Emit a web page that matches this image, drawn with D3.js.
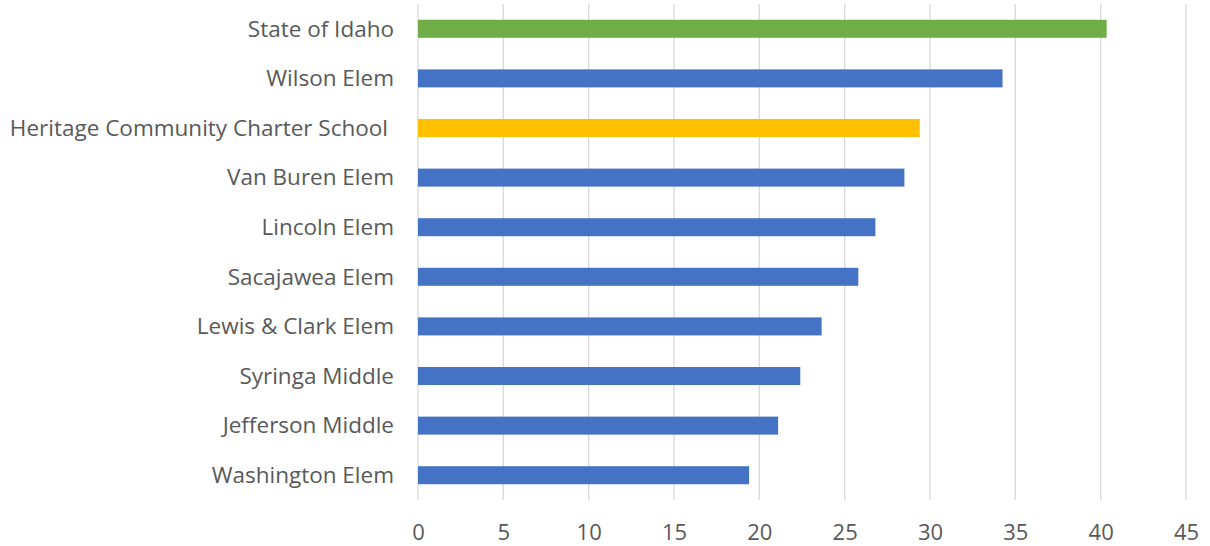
<!DOCTYPE html>
<html><head><meta charset="utf-8">
<script src="https://cdn.jsdelivr.net/npm/d3@7"></script>
<style>body{margin:0;background:#fff;} svg{display:block;}</style>
</head><body><svg id="c" width="1210" height="546"></svg>
<script>
const categories = ["State of Idaho","Wilson Elem","Heritage Community Charter School","Van Buren Elem","Lincoln Elem","Sacajawea Elem","Lewis & Clark Elem","Syringa Middle","Jefferson Middle","Washington Elem"];
const values = [40.35,34.25,29.4,28.5,26.8,25.8,23.65,22.4,21.1,19.4];
const barColors = ["#70ad47","#4472c4","#ffc000","#4472c4","#4472c4","#4472c4","#4472c4","#4472c4","#4472c4","#4472c4"];
const tickValues = [0,5,10,15,20,25,30,35,40,45];

const svg = d3.select("#c");
const pLeft = 418, pRight = 1186, pTop = 4, pBottom = 500;
const x = d3.scaleLinear().domain([0,45]).range([pLeft,pRight]);
const y = d3.scaleBand().domain(categories).range([pTop,pBottom]).paddingInner(0.637).paddingOuter(0.318);

svg.append("g").selectAll("line").data(tickValues).join("line")
  .attr("x1",d=>x(d)).attr("x2",d=>x(d)).attr("y1",pTop).attr("y2",pBottom)
  .attr("stroke","#d9d9d9").attr("stroke-width",1.3);

svg.append("g").selectAll("rect").data(categories).join("rect")
  .attr("x",x(0)).attr("y",d=>y(d)).attr("height",y.bandwidth())
  .attr("width",(d,i)=>x(values[i])-x(0)).attr("fill",(d,i)=>barColors[i]);

const font = "'Open Sans', sans-serif";
svg.append("g").selectAll("text").data(categories).join("text")
  .attr("x",d=> d.startsWith("Heritage") ? 388 : 394)
  .attr("y",d=>y(d)+y.bandwidth()/2).attr("dy","0.35em")
  .attr("text-anchor","end").attr("font-family",font).attr("font-size",22.5)
  .attr("fill","#595959").text(d=>d);

const xAxis = d3.axisBottom(x).tickValues(tickValues).tickSize(0).tickPadding(0);
const ax = svg.append("g").attr("transform",`translate(0,${pBottom+40})`).call(xAxis);
ax.select(".domain").remove();
ax.selectAll("text").attr("font-family",font).attr("font-size",22).attr("fill","#595959").attr("dy",0);
</script></body></html>
